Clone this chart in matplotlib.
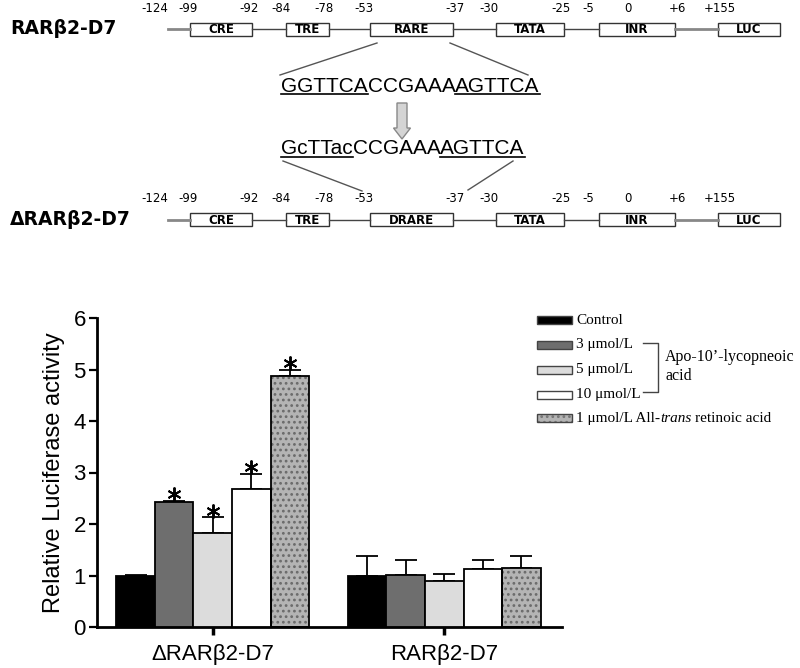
import numpy as np
import matplotlib.pyplot as plt
from matplotlib.patches import Rectangle, FancyArrow

plt.rcParams['font.family'] = ['Liberation Sans', 'DejaVu Sans']
plt.rcParams['hatch.linewidth'] = 1.2

# promoter schematic
elements = ['CRE', 'TRE', 'RARE', 'TATA', 'INR', 'LUC']
mut_elements = ['CRE', 'TRE', 'DRARE', 'TATA', 'INR', 'LUC']
box_left = [190, 286, 370, 496, 599, 718]
box_right = [252, 329, 453, 564, 675, 780]
site_labels = ['-124', '-99', '-92', '-84', '-78', '-53', '-37', '-30',
               '-25', '-5', '0', '+6', '+155']
site_x = [155, 188, 249, 281, 324, 364, 455, 489, 561, 588, 628, 677, 720]

wt_seq = [('GGTTCA', True), ('CCGAAA', False), ('AGTTCA', True)]
mut_seq = [('GcTTac', True), ('CCGAAA', False), ('AGTTCA', True)]

# luciferase data
groups = ['\u0394RAR\u03b22-D7', 'RAR\u03b22-D7']
treatments = ['Control', '3 \u03bcmol/L', '5 \u03bcmol/L', '10 \u03bcmol/L',
              '1 \u03bcmol/L All-trans retinoic acid']
delta_mean = [1.0, 2.43, 1.83, 2.67, 4.87]
delta_err = [0.01, 0.02, 0.30, 0.30, 0.12]
wt_mean = [1.0, 1.01, 0.89, 1.12, 1.15]
wt_err = [0.38, 0.29, 0.14, 0.18, 0.22]
delta_sig = [False, True, True, True, True]
wt_sig = [False, False, False, False, False]

face = ['black', '#6e6e6e', '#dcdcdc', 'white', '#b4b4b4']
hatches = [None, None, None, None, '...']

fig = plt.figure(figsize=(8, 6.68), dpi=100)

# ---- bar chart ----
ax = fig.add_axes([97 / 800, 41 / 668, 465 / 800, 309 / 668])
for g, (m, e, sig) in enumerate([(delta_mean, delta_err, delta_sig),
                                 (wt_mean, wt_err, wt_sig)]):
    x = np.arange(5) + 1 + 6 * g
    for i in range(5):
        if hatches[i]:
            ax.bar(x[i], m[i], width=1, color=face[i], hatch=hatches[i],
                   edgecolor='#6a6a6a', linewidth=0, zorder=2)
            ax.bar(x[i], m[i], width=1, fill=False, edgecolor='black',
                   linewidth=1.3, zorder=3)
        else:
            ax.bar(x[i], m[i], width=1, color=face[i], edgecolor='black',
                   linewidth=1.3, zorder=3)
    ax.errorbar(x, m, yerr=[np.zeros(5), e], fmt='none', ecolor='black',
                elinewidth=1.3, capsize=8, capthick=1.3, zorder=1)
    top = np.array(m) + np.array(e)
    s = np.array(sig)
    ax.plot(x[s], top[s] + 0.13, linestyle='none', marker=(6, 2, 0),
            markersize=10, markeredgewidth=1.4, color='black', zorder=4)

ax.set_xlim(0, 12.05)
ax.set_ylim(0, 6)
ax.set_xticks([3, 9])
ax.set_xticklabels(groups, fontsize=16)
ax.set_yticks(range(7))
ax.tick_params(axis='y', labelsize=16, length=6, width=1.6, pad=2)
ax.tick_params(axis='x', length=6, width=2.5, pad=6)
ax.set_ylabel('Relative Luciferase activity', fontsize=17, labelpad=6)
for sp in ['top', 'right']:
    ax.spines[sp].set_visible(False)
for sp in ['left', 'bottom']:
    ax.spines[sp].set_linewidth(2)

# ---- overlay in pixel coords for schematic and legend ----
dax = fig.add_axes([0, 0, 1, 1], facecolor='none')
dax.set_xlim(0, 800)
dax.set_ylim(668, 0)
dax.axis('off')
renderer = fig.canvas.get_renderer()
inv = dax.transData.inverted()


def draw_runs(x, y, runs, under_dy=2.5, **kw):
    for s, flag in runs:
        t = dax.text(x, y, s, va='baseline', ha='left', **kw)
        bb = t.get_window_extent(renderer)
        x0, x1 = inv.transform([[bb.x0, 0], [bb.x1, 0]])[:, 0]
        if flag:
            dax.plot([x0, x1], [y + under_dy, y + under_dy], color='black',
                     linewidth=1.2)
        x = x1


def draw_construct(yc, label, names):
    dax.text(10, yc, label, fontsize=13.5, fontweight='bold',
             family='DejaVu Sans', va='center', ha='left')
    segs = [(168, box_left[0])] + list(zip(box_right[:-1], box_left[1:]))
    for k, (a, b) in enumerate(segs):
        thick = k == 0 or k == len(segs) - 1
        dax.plot([a, b], [yc, yc], color='#888888' if thick else '#444444',
                 linewidth=2 if thick else 1)
    for l, r, n in zip(box_left, box_right, names):
        dax.add_patch(Rectangle((l, yc - 6.5), r - l, 13, facecolor='white',
                                edgecolor='#333333', linewidth=1))
        dax.text((l + r) / 2, yc + 0.5, n, fontsize=8.5, fontweight='bold',
                 family='DejaVu Sans', ha='center', va='center')
    for sx, sl in zip(site_x, site_labels):
        dax.text(sx, yc - 20.5, sl, fontsize=8.5, family='DejaVu Sans',
                 ha='center', va='center')


draw_construct(29, 'RAR\u03b22-D7', elements)
draw_construct(219.5, '\u0394RAR\u03b22-D7', mut_elements)

# connectors
dax.plot([377, 280], [43, 75], color='#555555', linewidth=1)
dax.plot([450, 528], [43, 75], color='#555555', linewidth=1)
dax.plot([283, 362], [161, 191], color='#555555', linewidth=1)
dax.plot([513, 468], [161, 190], color='#555555', linewidth=1)

draw_runs(281, 92, wt_seq, under_dy=1.5, fontsize=15)
draw_runs(281, 154, mut_seq, under_dy=2.5, fontsize=15)

dax.add_patch(FancyArrow(402, 103, 0, 36, width=10, head_width=17,
                         head_length=11, length_includes_head=True,
                         facecolor='#d4d4d4', edgecolor='#888888',
                         linewidth=1))

# ---- legend ----
leg_y = [320, 344.5, 370, 394.5, 418]
serif = 'Liberation Serif'
for i, yy in enumerate(leg_y):
    if hatches[i]:
        dax.add_patch(Rectangle((537, yy - 4), 35, 8, facecolor=face[i],
                                hatch=hatches[i], edgecolor='#777777',
                                linewidth=0))
    dax.add_patch(Rectangle((537, yy - 4), 35, 8,
                            facecolor=face[i] if not hatches[i] else 'none',
                            edgecolor='#444444', linewidth=1))
for i in range(4):
    dax.text(576, leg_y[i], treatments[i], family=serif, fontsize=11,
             va='center', ha='left')
# last entry with italic "trans"
t = dax.text(576, leg_y[4] + 4, '1 \u03bcmol/L All-', family=serif,
             fontsize=11, va='baseline')
bb = t.get_window_extent(renderer)
xx = inv.transform([[bb.x1, 0]])[0, 0]
t = dax.text(xx, leg_y[4] + 4, 'trans', family=serif, fontsize=11,
             fontstyle='italic', va='baseline')
bb = t.get_window_extent(renderer)
xx = inv.transform([[bb.x1, 0]])[0, 0] + 3.5
dax.text(xx, leg_y[4] + 4, 'retinoic acid', family=serif, fontsize=11,
         va='baseline')

dax.plot([643, 658, 658, 643], [343, 343, 392, 392], color='#444444',
         linewidth=1)
dax.text(665, 357, 'Apo-10\u2019-lycopneoic', family=serif, fontsize=11.5,
         va='center', ha='left')
dax.text(665, 376, 'acid', family=serif, fontsize=11.5, va='center',
         ha='left')

fig.savefig('out.png', dpi=100)
